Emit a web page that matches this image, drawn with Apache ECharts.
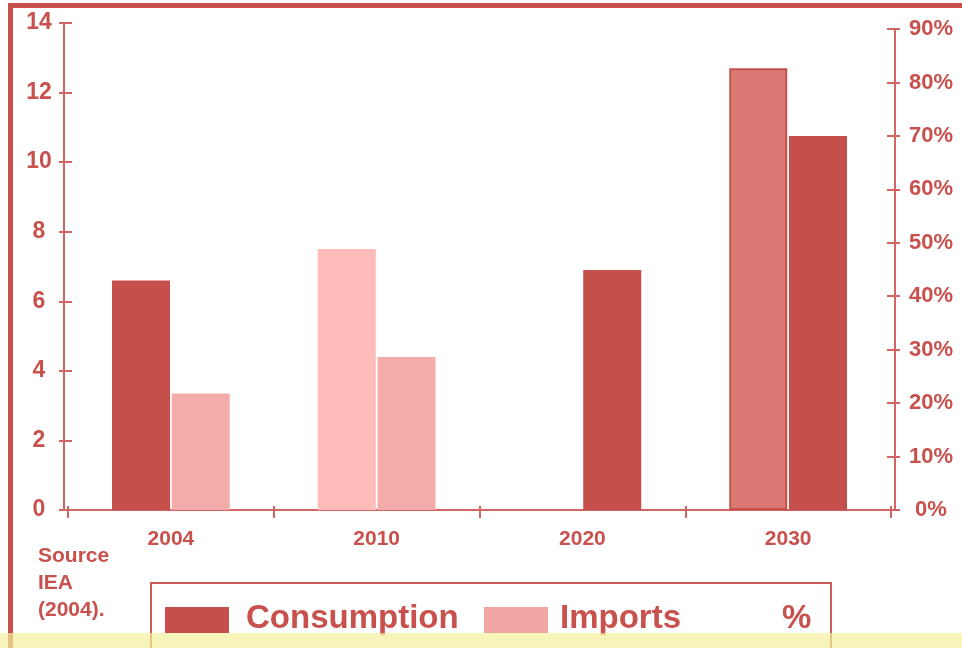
<!DOCTYPE html>
<html>
<head>
<meta charset="utf-8">
<script src="https://cdn.jsdelivr.net/npm/echarts@6/dist/echarts.min.js"></script>
<style>
html,body{margin:0;padding:0;background:#fff;}
#chart{width:962px;height:648px;}
</style>
</head>
<body>
<div id="chart"></div>
<script>
// ---- data ----
var categories = ['2004', '2010', '2020', '2030'];
var consumptionValues = [6.6, 7.5, null, 12.7];
var importsValues = [3.35, 4.4, 6.9, 10.75];
var leftTicks = {min: 0, max: 14, interval: 2};
var rightTicks = {min: 0, max: 90, interval: 10};
var legendNames = ['Consumption', 'Imports', '%'];
var sourceLines = ['Source', 'IEA', '(2004).'];

// ---- styles ----
var RED = '#C5504B';
var TXT = '#C9514D';
var AX = '#D26461';
var consumptionColors = [RED, '#FDBBB9', RED, '#DB7A75'];
var importsColors = ['#F3ACAA', '#F3ACAA', RED, RED];
var FONT = '"Liberation Sans", Arial, sans-serif';

function styled(vals, colors, borders) {
  return vals.map(function (v, i) {
    var it = {value: v, itemStyle: {color: colors[i]}};
    if (borders && borders[i]) { it.itemStyle.borderColor = RED; it.itemStyle.borderWidth = 2; }
    return it;
  });
}

var chart = echarts.init(document.getElementById('chart'), null, {renderer: 'canvas'});

var noAxisParts = {axisLine: {show: false}, axisTick: {show: false}, axisLabel: {show: false}, splitLine: {show: false}};

var option = {
  backgroundColor: '#ffffff',
  animation: false,
  grid: [
    {left: 64, right: 67, top: 23, bottom: 138},   // left value axis + baseline
    {left: 64, right: 67, top: 29, bottom: 138},   // right percent axis
    {left: 68, right: 71, top: 23, bottom: 138}    // bars + category axis
  ],
  xAxis: [
    Object.assign({type: 'value', gridIndex: 0, min: 0, max: 1}, noAxisParts,
      {axisLine: {show: true, onZero: false, lineStyle: {color: AX, width: 2}}}),
    Object.assign({type: 'value', gridIndex: 1, min: 0, max: 1}, noAxisParts),
    {
      type: 'category', gridIndex: 2, data: categories, position: 'bottom',
      axisLine: {show: false, onZero: false},
      axisTick: {show: true, length: 8, lineStyle: {color: AX, width: 2}},
      axisLabel: {color: TXT, fontFamily: FONT, fontWeight: 'bold', fontSize: 21, margin: 19},
      splitLine: {show: false}
    },
    {
      type: 'category', gridIndex: 2, data: categories, position: 'bottom',
      axisLine: {show: false, onZero: false},
      axisTick: {show: true, inside: true, length: 4, lineStyle: {color: AX, width: 2}},
      axisLabel: {show: false}, splitLine: {show: false}
    }
  ],
  yAxis: [
    {
      type: 'value', gridIndex: 0, position: 'left',
      min: leftTicks.min, max: leftTicks.max, interval: leftTicks.interval,
      axisLine: {show: true, onZero: false, lineStyle: {color: AX, width: 2}},
      axisTick: {show: true, length: 5, lineStyle: {color: AX, width: 2}},
      axisLabel: {color: TXT, fontFamily: FONT, fontWeight: 'bold', fontSize: 23, align: 'center', margin: 25},
      splitLine: {show: false}
    },
    {
      type: 'value', gridIndex: 0, position: 'left',
      min: leftTicks.min, max: leftTicks.max, interval: leftTicks.interval,
      axisLine: {show: false, onZero: false},
      axisTick: {show: true, inside: true, length: 8, lineStyle: {color: AX, width: 2}},
      axisLabel: {show: false}, splitLine: {show: false}
    },
    {
      type: 'value', gridIndex: 1, position: 'right',
      min: rightTicks.min, max: rightTicks.max, interval: rightTicks.interval,
      axisLine: {show: true, onZero: false, lineStyle: {color: AX, width: 2}},
      axisTick: {show: true, length: 5, lineStyle: {color: AX, width: 2}},
      axisLabel: {color: TXT, fontFamily: FONT, fontWeight: 'bold', fontSize: 22, align: 'center', margin: 36, formatter: '{value}%'},
      splitLine: {show: false}
    },
    {
      type: 'value', gridIndex: 1, position: 'right',
      min: rightTicks.min, max: rightTicks.max, interval: rightTicks.interval,
      axisLine: {show: false, onZero: false},
      axisTick: {show: true, inside: true, length: 8, lineStyle: {color: AX, width: 2}},
      axisLabel: {show: false}, splitLine: {show: false}
    },
    Object.assign({type: 'value', gridIndex: 2, min: leftTicks.min, max: leftTicks.max}, noAxisParts)
  ],
  series: [
    {
      name: legendNames[0], type: 'bar', xAxisIndex: 2, yAxisIndex: 4,
      barWidth: 58, barGap: '3%',
      data: styled(consumptionValues, consumptionColors, [false, false, false, true])
    },
    {
      name: legendNames[1], type: 'bar', xAxisIndex: 2, yAxisIndex: 4,
      barWidth: 58, barGap: '3%',
      data: styled(importsValues, importsColors)
    }
  ],
  graphic: [
    // outer frame
    {type: 'rect', left: 8, top: 3, z: 10, shape: {width: 960, height: 5}, style: {fill: '#C9514D'}},
    {type: 'rect', left: 8, top: 3, z: 10, shape: {width: 5, height: 650}, style: {fill: '#C9514D'}},
    // source note
    {type: 'text', left: 38, top: 543, z: 10, style: {text: sourceLines.join('\n'), fill: TXT, font: 'bold 21px ' + FONT, lineHeight: 27}},
    // legend box
    {type: 'rect', left: 150, top: 582, z: 10, shape: {width: 680, height: 66}, style: {fill: '#fff', stroke: '#CC5A56', lineWidth: 2}},
    {type: 'rect', left: 165, top: 607, z: 11, shape: {width: 64, height: 26}, style: {fill: RED}},
    {type: 'text', x: 246, y: 619, z: 11, style: {text: legendNames[0], fill: TXT, font: 'bold 33px ' + FONT, textVerticalAlign: 'middle'}},
    {type: 'rect', left: 484, top: 607, z: 11, shape: {width: 64, height: 26}, style: {fill: '#F1A6A4'}},
    {type: 'text', x: 560, y: 619, z: 11, style: {text: legendNames[1], fill: TXT, font: 'bold 33px ' + FONT, textVerticalAlign: 'middle'}},
    {type: 'text', x: 782, y: 619, z: 11, style: {text: legendNames[2], fill: TXT, font: 'bold 33px ' + FONT, textVerticalAlign: 'middle'}},
    // yellow band overlay
    {type: 'rect', left: 0, top: 633, z: 20, shape: {width: 962, height: 15}, style: {fill: 'rgba(245,241,156,0.7)'}}
  ]
};
chart.setOption(option);
</script>
</body>
</html>
